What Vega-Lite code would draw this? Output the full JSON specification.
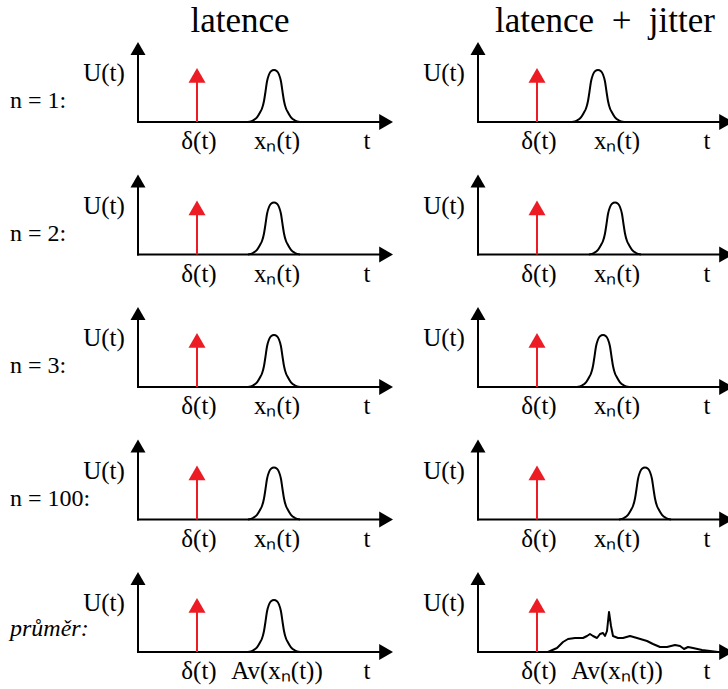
{
  "$schema": "https://vega.github.io/schema/vega-lite/v6.json",
  "padding": {"left": 10, "top": 3, "right": 0, "bottom": 2},
  "autosize": {"type": "pad"},
  "config": {"view": {"stroke": null}, "text": {"font": "Liberation Serif", "color": "#000000"}},
  "data": {"values": [
    {"k":"c","n":"1","m":"L","rl":"n = 1:","hd":"latence","lb":"xₙ(t)"},
    {"k":"c","n":"1","m":"J","rl":"","hd":"latence\u2002+\u2002jitter","lb":"xₙ(t)"},
    {"k":"c","n":"2","m":"L","rl":"n = 2:","hd":"","lb":"xₙ(t)"},
    {"k":"c","n":"2","m":"J","rl":"","hd":"","lb":"xₙ(t)"},
    {"k":"c","n":"3","m":"L","rl":"n = 3:","hd":"","lb":"xₙ(t)"},
    {"k":"c","n":"3","m":"J","rl":"","hd":"","lb":"xₙ(t)"},
    {"k":"c","n":"100","m":"L","rl":"n = 100:","hd":"","lb":"xₙ(t)"},
    {"k":"c","n":"100","m":"J","rl":"","hd":"","lb":"xₙ(t)"},
    {"k":"c","n":"avg","m":"L","rl":"","ri":"průměr:","hd":"","lb":"Av(xₙ(t))"},
    {"k":"c","n":"avg","m":"J","rl":"","hd":"","lb":"Av(xₙ(t))"},

    {"k":"p","n":"1","m":"L","t":110,"u":0},{"k":"p","n":"1","m":"L","t":115,"u":1.5},{"k":"p","n":"1","m":"L","t":119,"u":4.7},{"k":"p","n":"1","m":"L","t":122,"u":9.5},{"k":"p","n":"1","m":"L","t":124,"u":13.5},{"k":"p","n":"1","m":"L","t":126,"u":21},{"k":"p","n":"1","m":"L","t":127.5,"u":30.5},{"k":"p","n":"1","m":"L","t":129,"u":40.5},{"k":"p","n":"1","m":"L","t":131,"u":47.5},{"k":"p","n":"1","m":"L","t":133,"u":50.8},{"k":"p","n":"1","m":"L","t":136,"u":52},{"k":"p","n":"1","m":"L","t":139,"u":50.8},{"k":"p","n":"1","m":"L","t":141,"u":47.5},{"k":"p","n":"1","m":"L","t":143,"u":40.5},{"k":"p","n":"1","m":"L","t":144.5,"u":30.5},{"k":"p","n":"1","m":"L","t":146,"u":21},{"k":"p","n":"1","m":"L","t":148,"u":13.5},{"k":"p","n":"1","m":"L","t":150,"u":9.5},{"k":"p","n":"1","m":"L","t":153,"u":4.7},{"k":"p","n":"1","m":"L","t":157,"u":1.5},{"k":"p","n":"1","m":"L","t":162,"u":0},

    {"k":"p","n":"2","m":"L","t":110,"u":0},{"k":"p","n":"2","m":"L","t":115,"u":1.5},{"k":"p","n":"2","m":"L","t":119,"u":4.7},{"k":"p","n":"2","m":"L","t":122,"u":9.5},{"k":"p","n":"2","m":"L","t":124,"u":13.5},{"k":"p","n":"2","m":"L","t":126,"u":21},{"k":"p","n":"2","m":"L","t":127.5,"u":30.5},{"k":"p","n":"2","m":"L","t":129,"u":40.5},{"k":"p","n":"2","m":"L","t":131,"u":47.5},{"k":"p","n":"2","m":"L","t":133,"u":50.8},{"k":"p","n":"2","m":"L","t":136,"u":52},{"k":"p","n":"2","m":"L","t":139,"u":50.8},{"k":"p","n":"2","m":"L","t":141,"u":47.5},{"k":"p","n":"2","m":"L","t":143,"u":40.5},{"k":"p","n":"2","m":"L","t":144.5,"u":30.5},{"k":"p","n":"2","m":"L","t":146,"u":21},{"k":"p","n":"2","m":"L","t":148,"u":13.5},{"k":"p","n":"2","m":"L","t":150,"u":9.5},{"k":"p","n":"2","m":"L","t":153,"u":4.7},{"k":"p","n":"2","m":"L","t":157,"u":1.5},{"k":"p","n":"2","m":"L","t":162,"u":0},

    {"k":"p","n":"3","m":"L","t":110,"u":0},{"k":"p","n":"3","m":"L","t":115,"u":1.5},{"k":"p","n":"3","m":"L","t":119,"u":4.7},{"k":"p","n":"3","m":"L","t":122,"u":9.5},{"k":"p","n":"3","m":"L","t":124,"u":13.5},{"k":"p","n":"3","m":"L","t":126,"u":21},{"k":"p","n":"3","m":"L","t":127.5,"u":30.5},{"k":"p","n":"3","m":"L","t":129,"u":40.5},{"k":"p","n":"3","m":"L","t":131,"u":47.5},{"k":"p","n":"3","m":"L","t":133,"u":50.8},{"k":"p","n":"3","m":"L","t":136,"u":52},{"k":"p","n":"3","m":"L","t":139,"u":50.8},{"k":"p","n":"3","m":"L","t":141,"u":47.5},{"k":"p","n":"3","m":"L","t":143,"u":40.5},{"k":"p","n":"3","m":"L","t":144.5,"u":30.5},{"k":"p","n":"3","m":"L","t":146,"u":21},{"k":"p","n":"3","m":"L","t":148,"u":13.5},{"k":"p","n":"3","m":"L","t":150,"u":9.5},{"k":"p","n":"3","m":"L","t":153,"u":4.7},{"k":"p","n":"3","m":"L","t":157,"u":1.5},{"k":"p","n":"3","m":"L","t":162,"u":0},

    {"k":"p","n":"100","m":"L","t":110,"u":0},{"k":"p","n":"100","m":"L","t":115,"u":1.5},{"k":"p","n":"100","m":"L","t":119,"u":4.7},{"k":"p","n":"100","m":"L","t":122,"u":9.5},{"k":"p","n":"100","m":"L","t":124,"u":13.5},{"k":"p","n":"100","m":"L","t":126,"u":21},{"k":"p","n":"100","m":"L","t":127.5,"u":30.5},{"k":"p","n":"100","m":"L","t":129,"u":40.5},{"k":"p","n":"100","m":"L","t":131,"u":47.5},{"k":"p","n":"100","m":"L","t":133,"u":50.8},{"k":"p","n":"100","m":"L","t":136,"u":52},{"k":"p","n":"100","m":"L","t":139,"u":50.8},{"k":"p","n":"100","m":"L","t":141,"u":47.5},{"k":"p","n":"100","m":"L","t":143,"u":40.5},{"k":"p","n":"100","m":"L","t":144.5,"u":30.5},{"k":"p","n":"100","m":"L","t":146,"u":21},{"k":"p","n":"100","m":"L","t":148,"u":13.5},{"k":"p","n":"100","m":"L","t":150,"u":9.5},{"k":"p","n":"100","m":"L","t":153,"u":4.7},{"k":"p","n":"100","m":"L","t":157,"u":1.5},{"k":"p","n":"100","m":"L","t":162,"u":0},

    {"k":"p","n":"avg","m":"L","t":110,"u":0},{"k":"p","n":"avg","m":"L","t":115,"u":1.5},{"k":"p","n":"avg","m":"L","t":119,"u":4.7},{"k":"p","n":"avg","m":"L","t":122,"u":9.5},{"k":"p","n":"avg","m":"L","t":124,"u":13.5},{"k":"p","n":"avg","m":"L","t":126,"u":21},{"k":"p","n":"avg","m":"L","t":127.5,"u":30.5},{"k":"p","n":"avg","m":"L","t":129,"u":40.5},{"k":"p","n":"avg","m":"L","t":131,"u":47.5},{"k":"p","n":"avg","m":"L","t":133,"u":50.8},{"k":"p","n":"avg","m":"L","t":136,"u":52},{"k":"p","n":"avg","m":"L","t":139,"u":50.8},{"k":"p","n":"avg","m":"L","t":141,"u":47.5},{"k":"p","n":"avg","m":"L","t":143,"u":40.5},{"k":"p","n":"avg","m":"L","t":144.5,"u":30.5},{"k":"p","n":"avg","m":"L","t":146,"u":21},{"k":"p","n":"avg","m":"L","t":148,"u":13.5},{"k":"p","n":"avg","m":"L","t":150,"u":9.5},{"k":"p","n":"avg","m":"L","t":153,"u":4.7},{"k":"p","n":"avg","m":"L","t":157,"u":1.5},{"k":"p","n":"avg","m":"L","t":162,"u":0},

    {"k":"p","n":"1","m":"J","t":94,"u":0},{"k":"p","n":"1","m":"J","t":99,"u":1.5},{"k":"p","n":"1","m":"J","t":103,"u":4.7},{"k":"p","n":"1","m":"J","t":106,"u":9.5},{"k":"p","n":"1","m":"J","t":108,"u":13.5},{"k":"p","n":"1","m":"J","t":110,"u":21},{"k":"p","n":"1","m":"J","t":111.5,"u":30.5},{"k":"p","n":"1","m":"J","t":113,"u":40.5},{"k":"p","n":"1","m":"J","t":115,"u":47.5},{"k":"p","n":"1","m":"J","t":117,"u":50.8},{"k":"p","n":"1","m":"J","t":120,"u":52},{"k":"p","n":"1","m":"J","t":123,"u":50.8},{"k":"p","n":"1","m":"J","t":125,"u":47.5},{"k":"p","n":"1","m":"J","t":127,"u":40.5},{"k":"p","n":"1","m":"J","t":128.5,"u":30.5},{"k":"p","n":"1","m":"J","t":130,"u":21},{"k":"p","n":"1","m":"J","t":132,"u":13.5},{"k":"p","n":"1","m":"J","t":134,"u":9.5},{"k":"p","n":"1","m":"J","t":137,"u":4.7},{"k":"p","n":"1","m":"J","t":141,"u":1.5},{"k":"p","n":"1","m":"J","t":146,"u":0},

    {"k":"p","n":"2","m":"J","t":111,"u":0},{"k":"p","n":"2","m":"J","t":116,"u":1.5},{"k":"p","n":"2","m":"J","t":120,"u":4.7},{"k":"p","n":"2","m":"J","t":123,"u":9.5},{"k":"p","n":"2","m":"J","t":125,"u":13.5},{"k":"p","n":"2","m":"J","t":127,"u":21},{"k":"p","n":"2","m":"J","t":128.5,"u":30.5},{"k":"p","n":"2","m":"J","t":130,"u":40.5},{"k":"p","n":"2","m":"J","t":132,"u":47.5},{"k":"p","n":"2","m":"J","t":134,"u":50.8},{"k":"p","n":"2","m":"J","t":137,"u":52},{"k":"p","n":"2","m":"J","t":140,"u":50.8},{"k":"p","n":"2","m":"J","t":142,"u":47.5},{"k":"p","n":"2","m":"J","t":144,"u":40.5},{"k":"p","n":"2","m":"J","t":145.5,"u":30.5},{"k":"p","n":"2","m":"J","t":147,"u":21},{"k":"p","n":"2","m":"J","t":149,"u":13.5},{"k":"p","n":"2","m":"J","t":151,"u":9.5},{"k":"p","n":"2","m":"J","t":154,"u":4.7},{"k":"p","n":"2","m":"J","t":158,"u":1.5},{"k":"p","n":"2","m":"J","t":163,"u":0},

    {"k":"p","n":"3","m":"J","t":99,"u":0},{"k":"p","n":"3","m":"J","t":104,"u":1.5},{"k":"p","n":"3","m":"J","t":108,"u":4.7},{"k":"p","n":"3","m":"J","t":111,"u":9.5},{"k":"p","n":"3","m":"J","t":113,"u":13.5},{"k":"p","n":"3","m":"J","t":115,"u":21},{"k":"p","n":"3","m":"J","t":116.5,"u":30.5},{"k":"p","n":"3","m":"J","t":118,"u":40.5},{"k":"p","n":"3","m":"J","t":120,"u":47.5},{"k":"p","n":"3","m":"J","t":122,"u":50.8},{"k":"p","n":"3","m":"J","t":125,"u":52},{"k":"p","n":"3","m":"J","t":128,"u":50.8},{"k":"p","n":"3","m":"J","t":130,"u":47.5},{"k":"p","n":"3","m":"J","t":132,"u":40.5},{"k":"p","n":"3","m":"J","t":133.5,"u":30.5},{"k":"p","n":"3","m":"J","t":135,"u":21},{"k":"p","n":"3","m":"J","t":137,"u":13.5},{"k":"p","n":"3","m":"J","t":139,"u":9.5},{"k":"p","n":"3","m":"J","t":142,"u":4.7},{"k":"p","n":"3","m":"J","t":146,"u":1.5},{"k":"p","n":"3","m":"J","t":151,"u":0},

    {"k":"p","n":"100","m":"J","t":141,"u":0},{"k":"p","n":"100","m":"J","t":146,"u":1.5},{"k":"p","n":"100","m":"J","t":150,"u":4.7},{"k":"p","n":"100","m":"J","t":153,"u":9.5},{"k":"p","n":"100","m":"J","t":155,"u":13.5},{"k":"p","n":"100","m":"J","t":157,"u":21},{"k":"p","n":"100","m":"J","t":158.5,"u":30.5},{"k":"p","n":"100","m":"J","t":160,"u":40.5},{"k":"p","n":"100","m":"J","t":162,"u":47.5},{"k":"p","n":"100","m":"J","t":164,"u":50.8},{"k":"p","n":"100","m":"J","t":167,"u":52},{"k":"p","n":"100","m":"J","t":170,"u":50.8},{"k":"p","n":"100","m":"J","t":172,"u":47.5},{"k":"p","n":"100","m":"J","t":174,"u":40.5},{"k":"p","n":"100","m":"J","t":175.5,"u":30.5},{"k":"p","n":"100","m":"J","t":177,"u":21},{"k":"p","n":"100","m":"J","t":179,"u":13.5},{"k":"p","n":"100","m":"J","t":181,"u":9.5},{"k":"p","n":"100","m":"J","t":184,"u":4.7},{"k":"p","n":"100","m":"J","t":188,"u":1.5},{"k":"p","n":"100","m":"J","t":193,"u":0},

    {"k":"q","n":"avg","m":"J","t":70,"u":0},{"k":"q","n":"avg","m":"J","t":79,"u":4},{"k":"q","n":"avg","m":"J","t":85,"u":10},{"k":"q","n":"avg","m":"J","t":90,"u":13},{"k":"q","n":"avg","m":"J","t":97,"u":14},{"k":"q","n":"avg","m":"J","t":105,"u":14},{"k":"q","n":"avg","m":"J","t":109,"u":16},{"k":"q","n":"avg","m":"J","t":112,"u":18},{"k":"q","n":"avg","m":"J","t":115,"u":16},{"k":"q","n":"avg","m":"J","t":119,"u":14},{"k":"q","n":"avg","m":"J","t":122,"u":18},{"k":"q","n":"avg","m":"J","t":125,"u":19},{"k":"q","n":"avg","m":"J","t":127,"u":16},{"k":"q","n":"avg","m":"J","t":129,"u":21},{"k":"q","n":"avg","m":"J","t":131,"u":40},{"k":"q","n":"avg","m":"J","t":133,"u":26},{"k":"q","n":"avg","m":"J","t":135,"u":16},{"k":"q","n":"avg","m":"J","t":140,"u":14},{"k":"q","n":"avg","m":"J","t":145,"u":14},{"k":"q","n":"avg","m":"J","t":152,"u":16},{"k":"q","n":"avg","m":"J","t":159,"u":14},{"k":"q","n":"avg","m":"J","t":169,"u":11},{"k":"q","n":"avg","m":"J","t":175,"u":8},{"k":"q","n":"avg","m":"J","t":182,"u":5},{"k":"q","n":"avg","m":"J","t":189,"u":5},{"k":"q","n":"avg","m":"J","t":197,"u":7},{"k":"q","n":"avg","m":"J","t":202,"u":6},{"k":"q","n":"avg","m":"J","t":206,"u":3},{"k":"q","n":"avg","m":"J","t":210,"u":5},{"k":"q","n":"avg","m":"J","t":215,"u":4},{"k":"q","n":"avg","m":"J","t":224,"u":2},{"k":"q","n":"avg","m":"J","t":232,"u":1},{"k":"q","n":"avg","m":"J","t":240,"u":0}
  ]},
  "facet": {
    "row": {"field": "n", "type": "nominal", "sort": ["1", "2", "3", "100", "avg"], "header": null},
    "column": {"field": "m", "type": "nominal", "sort": ["L", "J"], "header": null}
  },
  "spacing": {"row": 16.5, "column": 90},
  "bounds": "flush",
  "spec": {
    "width": 250,
    "height": 116,
    "layer": [
      {
        "transform": [{"filter": "datum.k === 'c'"}],
        "mark": {"type": "rule", "color": "#000000", "strokeWidth": 2, "strokeCap": "square"},
        "encoding": {
          "x": {"datum": 0, "type": "quantitative", "scale": {"domain": [0, 250], "nice": false, "zero": false}, "axis": null},
          "x2": {"datum": 249},
          "y": {"datum": 0, "type": "quantitative", "scale": {"domain": [-36, 80], "nice": false, "zero": false}, "axis": null}
        }
      },
      {
        "transform": [{"filter": "datum.k === 'c'"}],
        "mark": {"type": "rule", "color": "#000000", "strokeWidth": 2, "strokeCap": "square"},
        "encoding": {
          "x": {"datum": 0, "type": "quantitative", "scale": {"domain": [0, 250], "nice": false, "zero": false}, "axis": null},
          "y": {"datum": 0, "type": "quantitative", "scale": {"domain": [-36, 80], "nice": false, "zero": false}, "axis": null},
          "y2": {"datum": 68}
        }
      },
      {
        "transform": [{"filter": "datum.k === 'c'"}],
        "mark": {"type": "point", "shape": "triangle-up", "size": 225, "filled": true, "opacity": 1, "color": "#000000", "strokeWidth": 0},
        "encoding": {
          "x": {"datum": 0, "type": "quantitative", "scale": {"domain": [0, 250], "nice": false, "zero": false}, "axis": null},
          "y": {"datum": 73.5, "type": "quantitative", "scale": {"domain": [-36, 80], "nice": false, "zero": false}, "axis": null}
        }
      },
      {
        "transform": [{"filter": "datum.k === 'c' && datum.m === 'L'"}],
        "mark": {"type": "point", "shape": "triangle-right", "size": 256, "filled": true, "opacity": 1, "color": "#000000", "strokeWidth": 0},
        "encoding": {
          "x": {"datum": 248.1, "type": "quantitative", "scale": {"domain": [0, 250], "nice": false, "zero": false}, "axis": null},
          "y": {"datum": 0, "type": "quantitative", "scale": {"domain": [-36, 80], "nice": false, "zero": false}, "axis": null}
        }
      },
      {
        "transform": [{"filter": "datum.k === 'c' && datum.m === 'J'"}],
        "mark": {"type": "point", "shape": "triangle-right", "size": 256, "filled": true, "opacity": 1, "color": "#000000", "strokeWidth": 0, "clip": true},
        "encoding": {
          "x": {"datum": 248.1, "type": "quantitative", "scale": {"domain": [0, 250], "nice": false, "zero": false}, "axis": null},
          "y": {"datum": 0, "type": "quantitative", "scale": {"domain": [-36, 80], "nice": false, "zero": false}, "axis": null}
        }
      },
      {
        "transform": [{"filter": "datum.k === 'c'"}],
        "mark": {"type": "rule", "color": "#ED1C24", "strokeWidth": 2},
        "encoding": {
          "x": {"datum": 59, "type": "quantitative", "scale": {"domain": [0, 250], "nice": false, "zero": false}, "axis": null},
          "y": {"datum": 0, "type": "quantitative", "scale": {"domain": [-36, 80], "nice": false, "zero": false}, "axis": null},
          "y2": {"datum": 42}
        }
      },
      {
        "transform": [{"filter": "datum.k === 'c'"}],
        "mark": {"type": "point", "shape": "triangle-up", "size": 289, "filled": true, "opacity": 1, "color": "#ED1C24", "strokeWidth": 0},
        "encoding": {
          "x": {"datum": 59, "type": "quantitative", "scale": {"domain": [0, 250], "nice": false, "zero": false}, "axis": null},
          "y": {"datum": 46.6, "type": "quantitative", "scale": {"domain": [-36, 80], "nice": false, "zero": false}, "axis": null}
        }
      },
      {
        "transform": [{"filter": "datum.k === 'p'"}],
        "mark": {"type": "line", "color": "#000000", "strokeWidth": 2, "interpolate": "monotone"},
        "encoding": {
          "x": {"field": "t", "type": "quantitative", "scale": {"domain": [0, 250], "nice": false, "zero": false}, "axis": null},
          "y": {"field": "u", "type": "quantitative", "scale": {"domain": [-36, 80], "nice": false, "zero": false}, "axis": null}
        }
      },
      {
        "transform": [{"filter": "datum.k === 'q'"}],
        "mark": {"type": "line", "color": "#000000", "strokeWidth": 2, "interpolate": "linear", "strokeJoin": "round"},
        "encoding": {
          "x": {"field": "t", "type": "quantitative", "scale": {"domain": [0, 250], "nice": false, "zero": false}, "axis": null},
          "y": {"field": "u", "type": "quantitative", "scale": {"domain": [-36, 80], "nice": false, "zero": false}, "axis": null}
        }
      },
      {
        "transform": [{"filter": "datum.k === 'c'"}],
        "mark": {"type": "text", "text": "δ(t)", "fontSize": 25, "align": "center", "baseline": "alphabetic"},
        "encoding": {
          "x": {"datum": 61, "type": "quantitative", "scale": {"domain": [0, 250], "nice": false, "zero": false}, "axis": null},
          "y": {"datum": -27, "type": "quantitative", "scale": {"domain": [-36, 80], "nice": false, "zero": false}, "axis": null}
        }
      },
      {
        "transform": [{"filter": "datum.k === 'c'"}],
        "mark": {"type": "text", "fontSize": 25, "align": "center", "baseline": "alphabetic"},
        "encoding": {
          "text": {"field": "lb"},
          "x": {"datum": 139, "type": "quantitative", "scale": {"domain": [0, 250], "nice": false, "zero": false}, "axis": null},
          "y": {"datum": -27, "type": "quantitative", "scale": {"domain": [-36, 80], "nice": false, "zero": false}, "axis": null}
        }
      },
      {
        "transform": [{"filter": "datum.k === 'c'"}],
        "mark": {"type": "text", "text": "t", "fontSize": 25, "align": "center", "baseline": "alphabetic"},
        "encoding": {
          "x": {"datum": 229, "type": "quantitative", "scale": {"domain": [0, 250], "nice": false, "zero": false}, "axis": null},
          "y": {"datum": -27, "type": "quantitative", "scale": {"domain": [-36, 80], "nice": false, "zero": false}, "axis": null}
        }
      },
      {
        "transform": [{"filter": "datum.k === 'c'"}],
        "mark": {"type": "text", "text": "U(t)", "fontSize": 25, "align": "center", "baseline": "alphabetic"},
        "encoding": {
          "x": {"datum": -34, "type": "quantitative", "scale": {"domain": [0, 250], "nice": false, "zero": false}, "axis": null},
          "y": {"datum": 41, "type": "quantitative", "scale": {"domain": [-36, 80], "nice": false, "zero": false}, "axis": null}
        }
      },
      {
        "transform": [{"filter": "datum.k === 'c' && datum.rl"}],
        "mark": {"type": "text", "fontSize": 24, "align": "left", "baseline": "alphabetic"},
        "encoding": {
          "text": {"field": "rl"},
          "x": {"datum": -128, "type": "quantitative", "scale": {"domain": [0, 250], "nice": false, "zero": false}, "axis": null},
          "y": {"datum": 14, "type": "quantitative", "scale": {"domain": [-36, 80], "nice": false, "zero": false}, "axis": null}
        }
      },
      {
        "transform": [{"filter": "datum.k === 'c' && datum.ri"}],
        "mark": {"type": "text", "fontSize": 24, "fontStyle": "italic", "align": "left", "baseline": "alphabetic"},
        "encoding": {
          "text": {"field": "ri"},
          "x": {"datum": -128, "type": "quantitative", "scale": {"domain": [0, 250], "nice": false, "zero": false}, "axis": null},
          "y": {"datum": 16, "type": "quantitative", "scale": {"domain": [-36, 80], "nice": false, "zero": false}, "axis": null}
        }
      },
      {
        "transform": [{"filter": "datum.k === 'c' && datum.hd && datum.m === 'L'"}],
        "mark": {"type": "text", "fontSize": 35, "align": "center", "baseline": "alphabetic"},
        "encoding": {
          "text": {"field": "hd"},
          "x": {"datum": 102, "type": "quantitative", "scale": {"domain": [0, 250], "nice": false, "zero": false}, "axis": null},
          "y": {"datum": 90, "type": "quantitative", "scale": {"domain": [-36, 80], "nice": false, "zero": false}, "axis": null}
        }
      },
      {
        "transform": [{"filter": "datum.k === 'c' && datum.hd && datum.m === 'J'"}],
        "mark": {"type": "text", "fontSize": 35, "align": "center", "baseline": "alphabetic"},
        "encoding": {
          "text": {"field": "hd"},
          "x": {"datum": 127, "type": "quantitative", "scale": {"domain": [0, 250], "nice": false, "zero": false}, "axis": null},
          "y": {"datum": 90, "type": "quantitative", "scale": {"domain": [-36, 80], "nice": false, "zero": false}, "axis": null}
        }
      }
    ]
  }
}
